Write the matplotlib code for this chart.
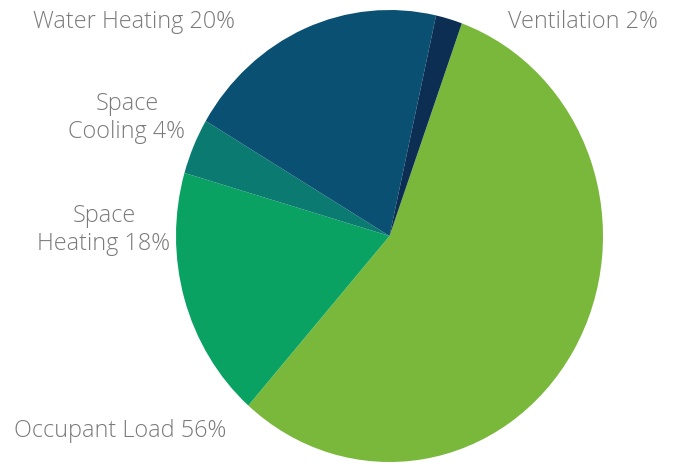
import matplotlib.pyplot as plt

# energy use breakdown, clockwise from the top
labels = ["Occupant Load", "Space Heating", "Space Cooling", "Water Heating", "Ventilation"]
shares = [56, 18, 4, 20, 2]
colors = ["#7ab83c", "#0aa263", "#0b7b72", "#0a5072", "#0c2e52"]

W, H = 679, 469
cx, cy = 389.5, 236    # pie centre in pixels
rx, ry = 213.5, 226    # pie is a bit squashed sideways

fig = plt.figure(figsize=(W / 100, H / 100), dpi=100)
ax = fig.add_axes([0, 0, 1, 1])
ax.pie(shares, colors=colors, startangle=70.2, counterclock=False,
       radius=1, center=(0, 0), wedgeprops=dict(linewidth=0))
ax.set_aspect("auto")
ax.set_xlim(-cx / rx, (W - cx) / rx)
ax.set_ylim((cy - H) / ry, cy / ry)
ax.axis("off")

txt = dict(fontsize=16.8, color="#7a7a7a", family=["Open Sans", "DejaVu Sans"],
           fontweight="light", va="center")

def px(x, y):
    return x / W, 1 - y / H

fig.text(*px(33, 22), f"{labels[3]} {shares[3]}%", ha="left", **txt)
fig.text(*px(508, 22), f"{labels[4]} {shares[4]}%", ha="left", **txt)
fig.text(*px(127, 118), f"Space\nCooling {shares[2]}%", ha="center",
         multialignment="center", linespacing=1.2, **txt)
fig.text(*px(104, 230), f"Space\nHeating {shares[1]}%", ha="center",
         multialignment="center", linespacing=1.2, **txt)
fig.text(*px(14, 431), f"{labels[0]} {shares[0]}%", ha="left", **txt)

fig.savefig("out.png", dpi=100)
